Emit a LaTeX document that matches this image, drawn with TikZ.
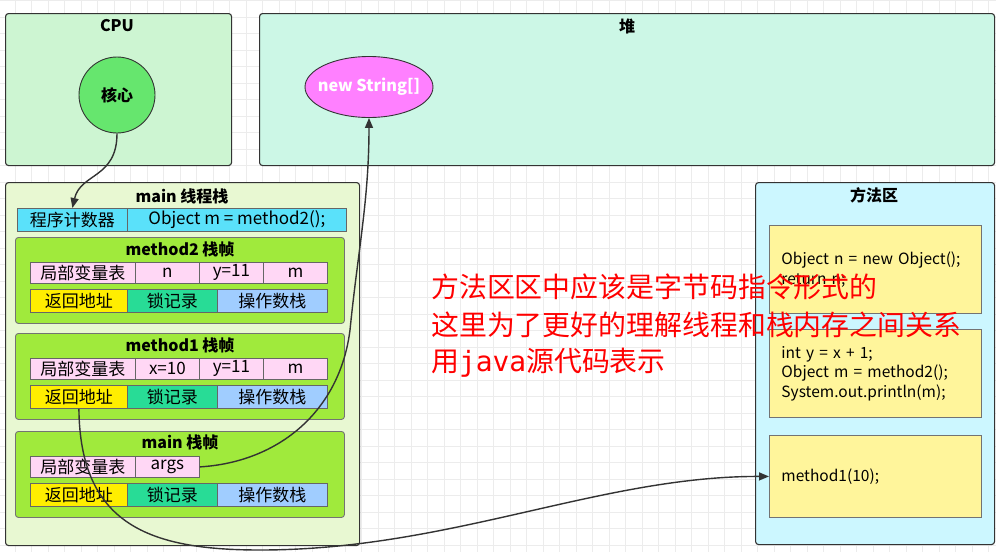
\documentclass[tikz,border=0pt]{standalone}
\usepackage{fontspec}
\setmainfont{Noto Sans CJK SC}
\newfontfamily\monojava{DejaVu Sans Mono}
\usetikzlibrary{shapes.geometric,arrows.meta}
\definecolor{cpuFill}{RGB}{205,245,210}
\definecolor{heapFill}{RGB}{204,247,230}
\definecolor{coreFill}{RGB}{102,230,110}
\definecolor{magFill}{RGB}{255,128,255}
\definecolor{stackFill}{RGB}{232,248,210}
\definecolor{frameFill}{RGB}{160,234,60}
\definecolor{pcFill}{RGB}{90,225,250}
\definecolor{pinkFill}{RGB}{255,215,245}
\definecolor{retFill}{RGB}{255,238,0}
\definecolor{lockFill}{RGB}{40,220,150}
\definecolor{opFill}{RGB}{160,205,255}
\definecolor{maFill}{RGB}{204,247,255}
\definecolor{codeFill}{RGB}{255,245,155}
\definecolor{gridCol}{RGB}{236,236,236}
\definecolor{lineCol}{RGB}{51,51,51}
\tikzset{
  box/.style={draw=lineCol, line width=1.1pt, rounded corners=3pt, inner sep=0pt, anchor=north west},
  framebox/.style={draw=black!55, line width=0.9pt, rounded corners=3pt, inner sep=0pt, anchor=north west, fill=frameFill},
  cell/.style={draw=black!60, line width=0.8pt, inner sep=0pt, anchor=north west, font=\fontsize{17}{17}\selectfont},
  title/.style={font=\bfseries\fontsize{16}{16}\selectfont, inner sep=0pt},
  codebox/.style={draw=black!55, line width=0.9pt, anchor=north west, fill=codeFill, minimum width=212, text width=188, inner xsep=12pt, inner ysep=0pt, align=left, font=\fontsize{15.5}{19.5}\selectfont},
  conn/.style={draw=lineCol, line width=1.4pt, -{Triangle[length=10pt,width=8pt]}},
  redtext/.style={text=red, anchor=west, inner sep=0pt, font=\fontsize{27.9}{30}\selectfont},
  gridline/.style={draw=gridCol, line width=0.6pt}
}
\begin{document}
\begin{tikzpicture}[x=1pt,y=-1pt]
\useasboundingbox (0,0) rectangle (996,552);
\fill[white] (0,0) rectangle (996,552);
% background grid
\foreach \i in {0,...,60} \draw[gridline] (15+16.5*\i,0) -- (15+16.5*\i,552);
\foreach \j in {0,...,34} \draw[gridline] (0,0.5+16.5*\j) -- (996,0.5+16.5*\j);

% CPU
\node[box, fill=cpuFill, minimum width=226, minimum height=152] (cpu) at (5,13) {};
\node[title] (cputitle) at (117,26) {CPU};
\node[circle, draw=lineCol, line width=0.9pt, fill=coreFill, minimum size=76, inner sep=0pt, font=\bfseries\fontsize{16}{16}\selectfont] (core) at (117,95) {核心};

% Heap
\node[box, fill=heapFill, minimum width=735, minimum height=152] (heap) at (259,13) {};
\node[title] (heaptitle) at (627,26) {堆};
\node[ellipse, draw=lineCol, line width=0.9pt, fill=magFill, minimum width=128, minimum height=61, inner sep=0pt, text=white, font=\bfseries\fontsize{16.3}{16}\selectfont] (str) at (369,87) {\makebox[0pt]{new String[]}};

% main thread stack
\node[box, fill=stackFill, minimum width=354, minimum height=363] (stack) at (5,182) {};
\node[title] (stacktitle) at (182,196) {main 线程栈};
\node[cell, fill=pcFill, minimum width=110, minimum height=23] (pc1) at (17,208) {程序计数器};
\node[cell, fill=pcFill, minimum width=219, minimum height=23] (pc2) at (127,208) {Object m = method2();};

% method2 frame
\node[framebox, minimum width=329, minimum height=86] (f2) at (15,237) {};
\node[title] (f2title) at (180,249) {method2 栈帧};
\node[cell, fill=pinkFill, minimum width=105, minimum height=21] (f2a) at (30,262) {局部变量表};
\node[cell, fill=pinkFill, minimum width=64, minimum height=21] (f2b) at (135,262) {n};
\node[cell, fill=pinkFill, minimum width=64, minimum height=21] (f2c) at (199,262) {y=11};
\node[cell, fill=pinkFill, minimum width=64, minimum height=21] (f2d) at (263,262) {m};
\node[cell, fill=retFill, minimum width=97, minimum height=23] (ret2) at (30,289) {返回地址};
\node[cell, fill=lockFill, minimum width=90, minimum height=23] (lock2) at (127,289) {锁记录};
\node[cell, fill=opFill, minimum width=110, minimum height=23] (op2) at (217,289) {操作数栈};

% method1 frame
\node[framebox, minimum width=329, minimum height=86] (f1) at (15,333) {};
\node[title] (f1title) at (180,345) {method1 栈帧};
\node[cell, fill=pinkFill, minimum width=105, minimum height=21] (f1a) at (30,358) {局部变量表};
\node[cell, fill=pinkFill, minimum width=64, minimum height=21] (f1b) at (135,358) {x=10};
\node[cell, fill=pinkFill, minimum width=64, minimum height=21] (f1c) at (199,358) {y=11};
\node[cell, fill=pinkFill, minimum width=64, minimum height=21] (f1d) at (263,358) {m};
\node[cell, fill=retFill, minimum width=97, minimum height=23] (ret1) at (30,385) {返回地址};
\node[cell, fill=lockFill, minimum width=90, minimum height=23] (lock1) at (127,385) {锁记录};
\node[cell, fill=opFill, minimum width=110, minimum height=23] (op1) at (217,385) {操作数栈};

% main frame
\node[framebox, minimum width=329, minimum height=86] (f0) at (15,431) {};
\node[title] (f0title) at (180,442) {main 栈帧};
\node[cell, fill=pinkFill, minimum width=105, minimum height=21] (f0a) at (30,456) {局部变量表};
\node[cell, fill=pinkFill, minimum width=64, minimum height=21] (args) at (135,456) {args};
\node[cell, fill=retFill, minimum width=97, minimum height=23] (ret0) at (30,483) {返回地址};
\node[cell, fill=lockFill, minimum width=90, minimum height=23] (lock0) at (127,483) {锁记录};
\node[cell, fill=opFill, minimum width=110, minimum height=23] (op0) at (217,483) {操作数栈};

% method area
\node[box, fill=maFill, minimum width=239, minimum height=362] (ma) at (755,182) {};
\node[title] (matitle) at (874,195) {方法区};
\node[codebox, minimum height=88] (code1) at (769,225) {Object n = new Object();\\return n;};
\node[codebox, minimum height=88] (code2) at (769,329) {int y = x + 1;\\Object m = method2();\\System.out.println(m);};
\node[codebox, minimum height=82] (code3) at (769,435) {method1(10);};

% connectors
\draw[conn] (core.south) .. controls +(0,45) and +(8,-35) .. (pc1.north);
\draw[conn] (args.east) .. controls (280,462) and (340,410) .. (350,330) .. controls (358,250) and (369,200) .. (str.south);
\draw[conn] (ret1.south) .. controls (80,525) and (150,550) .. (260,550) .. controls (450,550) and (600,476) .. (code3.west);

% red annotation
\node[redtext] (red1) at (431,287) {方法区区中应该是字节码指令形式的};
\node[redtext] (red2) at (431,325) {这里为了更好的理解线程和栈内存之间关系};
\node[redtext] (red3) at (431,363) {用{\monojava java}源代码表示};
\end{tikzpicture}
\end{document}
